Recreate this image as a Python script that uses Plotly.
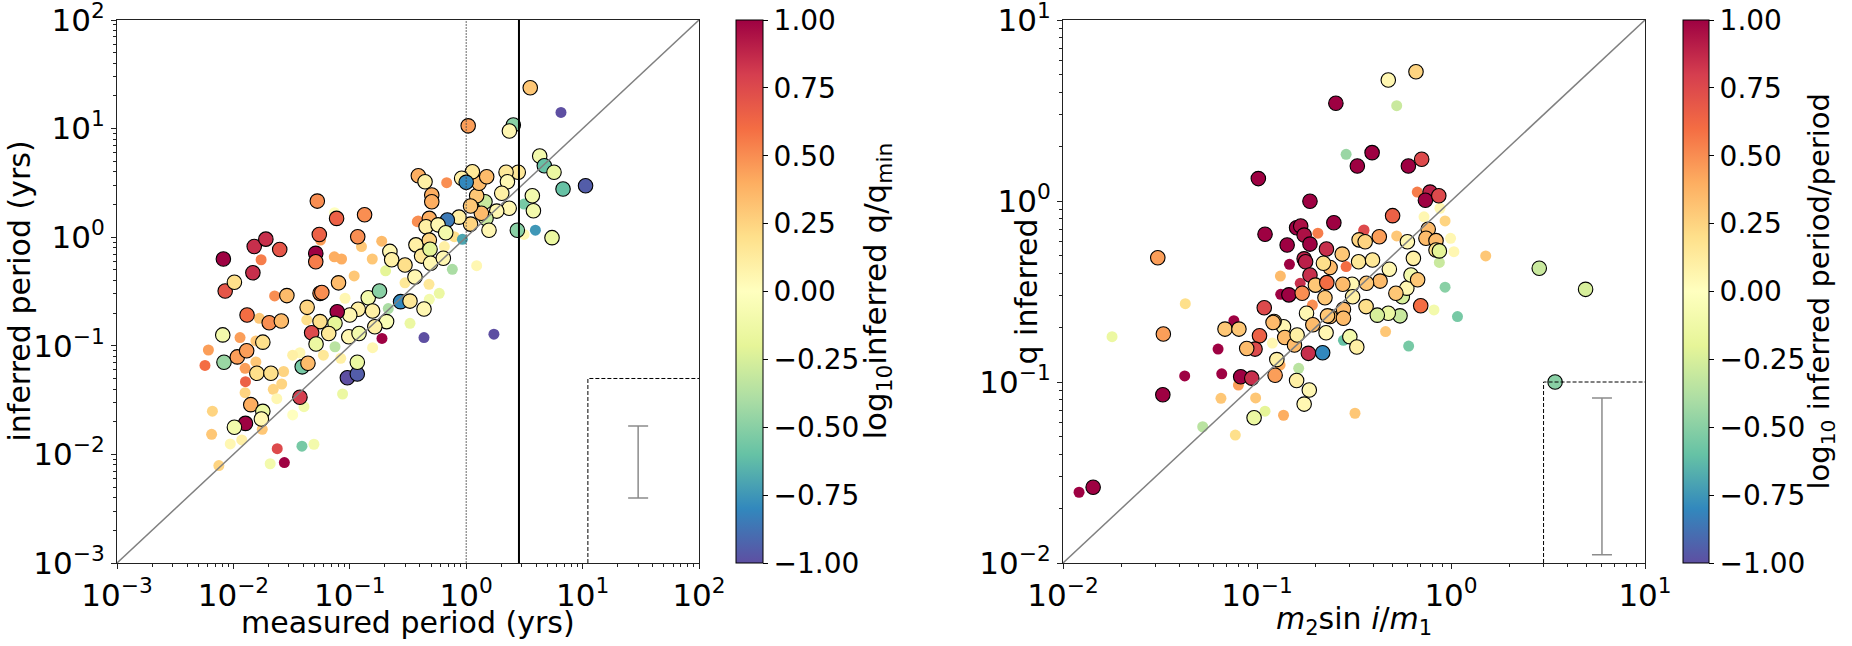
import plotly.graph_objects as go

# ---------------- data: left panel (measured vs inferred period) ----------------
# bordered markers
L_b_x = [0.0082, 0.0151, 0.019, 0.025, 0.0147, 0.0085, 0.0102, 0.0526, 0.077, 0.134,
         0.0547, 0.117, 0.051, 0.051, 0.080, 0.221, 0.229, 0.298, 0.37, 0.388,
         0.443, 0.363, 0.144, 0.18, 0.273, 0.329, 0.118, 0.157, 0.1, 0.078,
         0.043, 0.0288, 0.0555, 0.0575, 0.0131, 0.0203, 0.0258, 0.0555, 0.0746, 0.207,
         0.0081, 0.0083, 0.0108, 0.013, 0.0179, 0.0159, 0.021, 0.0141, 0.0179, 0.0174,
         0.0127, 0.0102, 0.0373, 0.039, 0.0437, 0.047, 0.0513, 0.0659, 0.098, 0.12,
         0.0953, 0.116, 0.116, 0.164,
         3.55, 1.04, 2.54, 2.35, 4.28, 4.69, 5.68, 6.79, 10.6, 3.7,
         3.78, 2.75, 5.46, 2.8, 2.2, 2.26, 2.02, 2.34, 1.83, 1.45,
         1.48, 1.35, 1.57, 1.23, 1.29, 1.5, 1.13, 0.914, 1.0, 1.09,
         1.09, 0.867, 0.689, 0.506, 0.506, 0.482, 0.452, 0.573, 0.667, 0.482,
         0.414, 0.489, 0.495, 0.636, 0.434]
L_b_y = [0.63, 0.82, 0.96, 0.77, 0.47, 0.32, 0.385, 2.15, 1.49, 1.61,
         1.06, 1.01, 0.71, 0.595, 0.38, 0.74, 0.62, 0.555, 0.85, 3.68,
         3.24, 0.43, 0.277, 0.32, 0.255, 0.258, 0.217, 0.209, 0.192, 0.206,
         0.226, 0.29, 0.304, 0.31, 0.192, 0.163, 0.169, 0.167, 0.161, 0.167,
         0.126, 0.0705, 0.079, 0.090, 0.108, 0.0558, 0.0558, 0.0287, 0.0249, 0.0212,
         0.0193, 0.0178, 0.0336, 0.064, 0.069, 0.132, 0.104, 0.130, 0.121, 0.130,
         0.0508, 0.055, 0.0705, 0.15,
         23.8, 10.6, 10.8, 9.5, 5.6, 4.55, 3.96, 2.78, 2.98, 2.41,
         1.75, 1.16, 0.99, 3.96, 3.96, 3.24, 2.54, 1.85, 1.74, 2.12,
         1.49, 1.66, 1.16, 2.41, 3.14, 3.6, 4.01, 3.49, 3.2, 1.94,
         1.32, 1.53, 1.44, 2.45, 2.12, 1.49, 1.25, 1.3, 1.1, 0.94,
         0.67, 0.775, 0.575, 0.64, 0.218]
L_b_c = [1.0, 0.85, 0.85, 0.7, 0.85, 0.7, 0.2, 0.5, 0.65, 0.5,
         0.65, 0.5, 1.0, 0.55, 0.35, 0.05, 0.1, 0.2, 0.1, 0.4,
         0.1, 0.05, -0.1, -0.5, -0.8, 0.15, 0.1, 0.1, 0.05, 1.0,
         0.25, 0.35, 0.5, 0.5, 0.6, 0.5, 0.35, 0.2, -0.2, -0.05,
         -0.1, -0.45, 0.45, 0.45, 0.2, 0.2, 0.2, 0.4, -0.15, 0.05,
         1.0, -0.1, 0.8, -0.55, 0.35, 0.75, -0.15, 0.15, 0.05, -0.1,
         -1.0, -0.95, -0.15, 0.1,
         0.3, 0.45, -0.5, 0.05, -0.1, -0.6, -0.15, -0.6, -0.95, -0.1,
         -0.1, -0.5, -0.15, 0.15, 0.15, 0.05, 0.1, 0.05, 0.05, -0.3,
         -0.3, 0.35, 0.05, 0.3, 0.35, 0.35, 0.15, 0.1, -0.8, 0.3,
         0.25, 0.1, -0.85, 0.4, 0.4, 0.4, 0.1, 0.05, -0.1, 0.25,
         0.15, -0.2, 0.05, 0.05, 0.05]

# plain markers
L_s_x = [0.0173, 0.074, 0.056, 0.126, 0.188, 0.0736, 0.085, 0.156, 0.109, 0.203,
         0.38, 0.298, 0.091, 0.214, 0.0226, 0.0167, 0.0427, 0.0114, 0.0061, 0.0057,
         0.0156, 0.0156, 0.0126, 0.027, 0.0127, 0.0126, 0.022, 0.026, 0.0236, 0.0066,
         0.0177, 0.0065, 0.0094, 0.0118, 0.0075, 0.0238, 0.0274, 0.0207, 0.0388, 0.0492,
         0.0323, 0.0404, 0.0373, 0.0323, 0.0593, 0.0746, 0.0836, 0.0867, 0.157, 0.189,
         0.329, 6.52, 3.14, 3.14, 3.93, 0.68, 0.387, 0.79, 0.927, 0.649,
         0.76, 1.23, 0.587, 0.479, 0.482, 0.434, 1.73]
L_s_y = [0.62, 1.68, 0.94, 0.82, 0.92, 0.66, 0.63, 0.63, 0.44, 0.49,
         1.39, 0.38, 0.274, 0.22, 0.288, 0.179, 0.173, 0.119, 0.0915, 0.066,
         0.111, 0.071, 0.062, 0.058, 0.0467, 0.037, 0.0397, 0.0445, 0.0326, 0.025,
         0.017, 0.0153, 0.0125, 0.0136, 0.0079, 0.0113, 0.0084, 0.0082, 0.0119, 0.0124,
         0.0231, 0.0275, 0.0863, 0.082, 0.082, 0.098, 0.0767, 0.036, 0.096, 0.117,
         0.161, 14.1, 2.02, 1.06, 1.16, 3.18, 1.41, 1.01, 0.957, 0.82,
         0.506, 0.547, 0.304, 0.368, 0.268, 0.119, 0.128]
L_s_c = [0.55, 0.0, 0.45, 0.3, 0.35, 0.4, 0.4, 0.3, 0.3, -0.2,
         0.5, 0.15, 0.05, -0.4, 0.5, 0.3, 0.2, 0.45, 0.45, 0.6,
         0.3, 0.3, 0.45, 0.25, 0.65, 0.25, 0.25, 0.25, 0.05, 0.25,
         0.3, 0.3, 0.05, 0.1, 0.25, 0.75, 1.0, -0.1, -0.55, -0.1,
         0.0, -0.1, 0.05, 0.1, 0.15, -0.35, 0.1, -0.15, 0.05, 1.0,
         -0.15, -1.0, -0.55, 0.05, -0.75, 0.5, 0.5, 0.2, -0.7, 0.1,
         -0.4, 0.05, -0.15, 0.15, -0.1, -1.0, -1.0]

# ---------------- data: right panel (m2 sin i / m1 vs q inferred) ----------------
R_b_x = [0.255, 0.392, 0.329, 0.1016, 0.1875, 0.249, 0.110, 0.160, 0.168, 0.175,
         0.143, 0.1875, 0.228, 0.175, 0.178, 0.1875, 0.146, 0.171, 0.109, 0.0308,
         0.2, 0.229, 0.238, 0.275, 0.334, 0.336, 0.361, 0.309, 0.277, 0.224,
         0.18, 0.279, 0.238, 0.311, 0.365, 0.137, 0.1225, 0.0684, 0.0807, 0.0329,
         0.0327, 0.0824, 0.094, 0.0966, 0.16, 0.186, 0.175, 0.124, 0.184, 0.218,
         0.1265, 0.139, 0.103, 0.0977, 0.0885, 0.121, 0.156, 0.161, 0.194, 0.231,
         0.227, 0.301, 0.327, 0.279, 0.0143, 0.66, 0.475, 0.603, 0.706, 0.78,
         0.738, 0.865, 0.5, 0.427, 0.596, 0.763, 0.743, 0.837, 0.837, 0.871,
         2.85, 4.94, 0.698, 0.546, 0.475, 0.417, 0.561, 0.592, 0.622, 0.673,
         0.64, 0.481, 0.431, 0.394, 0.52, 0.367, 3.44, 0.22]
R_b_y = [3.47, 1.85, 1.56, 1.33, 0.996, 0.759, 0.655, 0.712, 0.728, 0.648,
         0.571, 0.578, 0.543, 0.479, 0.462, 0.39, 0.303, 0.309, 0.257, 0.486,
         0.343, 0.354, 0.429, 0.509, 0.462, 0.61, 0.596, 0.347, 0.347, 0.292,
         0.24, 0.252, 0.23, 0.296, 0.261, 0.202, 0.216, 0.196, 0.196, 0.184,
         0.0851, 0.107, 0.105, 0.0635, 0.102, 0.0903, 0.0755, 0.109, 0.144, 0.145,
         0.133, 0.176, 0.18, 0.152, 0.153, 0.213, 0.16, 0.182, 0.207, 0.232,
         0.187, 0.178, 0.156, 0.225, 0.0262, 5.18, 4.66, 1.56, 1.7, 1.12,
         1.01, 1.07, 0.83, 0.635, 0.596, 0.698, 0.622, 0.604, 0.536, 0.53,
         0.425, 0.325, 0.264, 0.232, 0.24, 0.234, 0.296, 0.33, 0.39, 0.367,
         0.482, 0.42, 0.361, 0.472, 0.309, 0.351, 0.1, 0.453]
R_b_c = [1.0, 1.0, 1.0, 1.0, 1.0, 1.0, 1.0, 1.0, 0.95, 0.95,
         1.0, 1.0, 0.85, 0.9, 0.9, 0.85, 1.0, 0.5, 0.75, 0.45,
         0.3, 0.6, 0.35, 0.3, 0.15, 0.25, 0.25, 0.05, 0.35, 0.3,
         0.05, 0.35, 0.35, 0.1, 0.2, 0.05, 0.25, 0.3, 0.3, 0.45,
         1.0, 1.0, 0.85, -0.15, 0.1, 0.05, 0.05, 0.45, 0.85, -0.8,
         0.1, 0.35, 0.65, 0.75, 0.35, 0.35, 0.35, 0.1, 0.35, 0.3,
         0.05, -0.1, 0.1, 0.35, 1.0, 0.25, 0.05, 1.0, 0.75, 0.9,
         1.0, 0.75, 0.65, 0.45, 0.05, 0.35, 0.35, 0.35, 0.2, -0.2,
         -0.3, -0.25, 0.6, -0.3, -0.15, -0.25, -0.25, 0.05, -0.1, 0.3,
         0.1, 0.05, 0.35, 0.15, 0.3, 0.3, -0.5, 0.2]

R_s_x = [0.288, 0.206, 0.147, 0.132, 0.167, 0.1325, 0.193, 0.0427, 0.288, 0.355,
         0.076, 0.0179, 0.0121, 0.0424, 0.063, 0.0658, 0.0802, 0.0652, 0.0984, 0.11,
         0.137, 0.0773, 0.0525, 0.164, 0.279, 0.12, 0.1315, 0.525, 0.67, 0.877,
         0.726, 0.932, 0.356, 0.525, 0.995, 1.035, 0.871, 1.51, 0.932, 1.08,
         0.817, 0.46, 0.605, 0.32]
R_s_y = [1.81, 0.664, 0.447, 0.385, 0.351, 0.305, 0.266, 0.271, 0.434, 0.685,
         0.218, 0.178, 0.0246, 0.108, 0.152, 0.111, 0.0962, 0.0813, 0.0817, 0.069,
         0.0655, 0.0509, 0.0566, 0.119, 0.17, 0.164, 0.124, 3.36, 1.12, 0.912,
         0.818, 0.776, 0.692, 0.641, 0.622, 0.525, 0.458, 0.497, 0.334, 0.23,
         0.25, 0.19, 0.158, 0.0672]
R_s_c = [-0.45, 0.55, 1.0, 0.35, 0.85, 1.0, 0.5, 0.2, 0.6, 0.7,
         1.0, -0.15, 1.0, 1.0, 1.0, 1.0, 0.45, 0.3, 0.3, -0.2,
         0.4, 0.2, -0.35, -0.35, -0.6, 0.05, 0.4, -0.3, 0.55, 0.05,
         0.05, 0.25, 0.75, 0.3, 0.05, 0.05, -0.3, 0.3, -0.5, -0.55,
         -0.1, 0.3, -0.55, 0.3]

# reference lines / guide boxes / error bars
L_diag = [1e-3, 1e2]
R_diag = [1e-2, 1e1]
L_vline_dotted = 1.0
L_vline_solid = 2.84
L_box_x = [11.1, 11.1, 100]
L_box_y = [1e-3, 0.05, 0.05]
R_box_x = [3.0, 3.0, 10]
R_box_y = [1e-2, 0.1, 0.1]
L_err = dict(x=30, lo=0.00397, hi=0.0183, mid=0.0085)
R_err = dict(x=6.0, lo=0.0111, hi=0.0816, mid=0.03)

# ---------------- styling ----------------
FONT = "DejaVu Sans"
TICK_FS = 31
CB_TICK_FS = 28
TITLE_FS = 30
W, H = 1852, 646
spectral_r = [[0.0, 'rgb(94,79,162)'], [0.1, 'rgb(50,136,189)'], [0.2, 'rgb(102,194,165)'],
              [0.3, 'rgb(171,221,164)'], [0.4, 'rgb(230,245,152)'], [0.5, 'rgb(255,255,191)'],
              [0.6, 'rgb(254,224,139)'], [0.7, 'rgb(253,174,97)'], [0.8, 'rgb(244,109,67)'],
              [0.9, 'rgb(213,62,79)'], [1.0, 'rgb(158,1,66)']]

SUP = {-3: "−3", -2: "−2", -1: "−1", 0: "0", 1: "1", 2: "2"}


def log_ticks(lo, hi):
    vals = [10.0 ** k for k in range(lo, hi + 1)]
    text = ["10<sup>%s</sup>" % SUP[k] for k in range(lo, hi + 1)]
    minor = [m * 10.0 ** k for k in range(lo, hi) for m in range(2, 10)]
    return vals, text, minor


def px(xp):
    return xp / W


def py(yp):
    return 1 - yp / H


fig = go.Figure()

# small markers
fig.add_trace(go.Scatter(x=L_s_x, y=L_s_y, mode="markers", xaxis="x", yaxis="y",
                         marker=dict(size=11, color=L_s_c, coloraxis="coloraxis", line=dict(width=0)),
                         showlegend=False, hoverinfo="skip"))
fig.add_trace(go.Scatter(x=R_s_x, y=R_s_y, mode="markers", xaxis="x2", yaxis="y2",
                         marker=dict(size=11, color=R_s_c, coloraxis="coloraxis2", line=dict(width=0)),
                         showlegend=False, hoverinfo="skip"))
# bordered markers
fig.add_trace(go.Scatter(x=L_b_x, y=L_b_y, mode="markers", xaxis="x", yaxis="y",
                         marker=dict(size=14.5, color=L_b_c, coloraxis="coloraxis",
                                     line=dict(width=1.1, color="black")),
                         showlegend=False, hoverinfo="skip"))
fig.add_trace(go.Scatter(x=R_b_x, y=R_b_y, mode="markers", xaxis="x2", yaxis="y2",
                         marker=dict(size=14.5, color=R_b_c, coloraxis="coloraxis2",
                                     line=dict(width=1.1, color="black")),
                         showlegend=False, hoverinfo="skip"))

# diagonal one-to-one lines
fig.add_trace(go.Scatter(x=L_diag, y=L_diag, mode="lines", xaxis="x", yaxis="y",
                         line=dict(color="gray", width=1.5), showlegend=False, hoverinfo="skip"))
fig.add_trace(go.Scatter(x=R_diag, y=R_diag, mode="lines", xaxis="x2", yaxis="y2",
                         line=dict(color="gray", width=1.5), showlegend=False, hoverinfo="skip"))

# vertical lines in left panel
fig.add_trace(go.Scatter(x=[L_vline_dotted, L_vline_dotted], y=L_diag, mode="lines", xaxis="x", yaxis="y",
                         line=dict(color="#444444", width=0.8, dash="2px,1px"), showlegend=False,
                         hoverinfo="skip"))
fig.add_trace(go.Scatter(x=[L_vline_solid, L_vline_solid], y=L_diag, mode="lines", xaxis="x", yaxis="y",
                         line=dict(color="black", width=2), showlegend=False, hoverinfo="skip"))

# dashed boxes
fig.add_trace(go.Scatter(x=L_box_x, y=L_box_y, mode="lines", xaxis="x", yaxis="y",
                         line=dict(color="black", width=1, dash="4px,2px"), showlegend=False, hoverinfo="skip"))
fig.add_trace(go.Scatter(x=R_box_x, y=R_box_y, mode="lines", xaxis="x2", yaxis="y2",
                         line=dict(color="black", width=1, dash="4px,2px"), showlegend=False, hoverinfo="skip"))

# error bars
for e, xa, ya in [(L_err, "x", "y"), (R_err, "x2", "y2")]:
    fig.add_trace(go.Scatter(x=[e["x"]], y=[e["mid"]], mode="markers", xaxis=xa, yaxis=ya,
                             marker=dict(size=1, opacity=0),
                             error_y=dict(type="data", symmetric=False,
                                          array=[e["hi"] - e["mid"]], arrayminus=[e["mid"] - e["lo"]],
                                          width=10, thickness=1.5, color="#8c8c8c"),
                             showlegend=False, hoverinfo="skip"))

lxv, lxt, lxm = log_ticks(-3, 2)
rxv, rxt, rxm = log_ticks(-2, 1)

axis_common = dict(type="log", showgrid=False, zeroline=False, showline=True, linecolor="#222222",
                   linewidth=1.1, mirror=True, ticks="outside", ticklen=5, tickwidth=1.1,
                   tickcolor="#222222", tickmode="array", ticklabeloverflow="allow",
                   tickfont=dict(family=FONT, size=TICK_FS, color="black"), automargin=False)
minor_common = dict(ticks="outside", ticklen=3, tickwidth=0.8, tickcolor="#222222")

PT, PB = 20, 563          # plot top/bottom in pixels
L_X0, L_X1 = 117, 699
R_X0, R_X1 = 1063, 1645

fig.update_layout(
    width=W, height=H,
    margin=dict(l=0, r=0, t=0, b=0),
    paper_bgcolor="white", plot_bgcolor="white",
    font=dict(family=FONT, size=TICK_FS, color="black"),
    xaxis=dict(axis_common, domain=[px(L_X0), px(L_X1)], range=[-3, 2], tickvals=lxv, ticktext=lxt,
               minor=dict(minor_common, tickvals=lxm), anchor="y"),
    yaxis=dict(axis_common, domain=[py(PB), py(PT)], range=[-3, 2], tickvals=lxv, ticktext=lxt,
               minor=dict(minor_common, tickvals=lxm), anchor="x"),
    xaxis2=dict(axis_common, domain=[px(R_X0), px(R_X1)], range=[-2, 1], tickvals=rxv, ticktext=rxt,
                minor=dict(minor_common, tickvals=rxm), anchor="y2"),
    yaxis2=dict(axis_common, domain=[py(PB), py(PT)], range=[-2, 1], tickvals=rxv, ticktext=rxt,
                minor=dict(minor_common, tickvals=rxm), anchor="x2"),
)

cb_ticks = [-1.0, -0.75, -0.5, -0.25, 0.0, 0.25, 0.5, 0.75, 1.0]
cb_text = [("%.2f" % v).replace("-", "−") for v in cb_ticks]


def cbar(x, thick):
    return dict(x=x, xanchor="left", xpad=0, y=py(PT), yanchor="top", ypad=0,
                lenmode="pixels", len=PB - PT, thickness=thick, outlinewidth=1, outlinecolor="black",
                tickmode="array", tickvals=cb_ticks, ticktext=cb_text, ticks="outside", ticklen=5,
                tickwidth=1, tickcolor="black", tickfont=dict(family=FONT, size=CB_TICK_FS))


fig.update_layout(
    coloraxis=dict(colorscale=spectral_r, cmin=-1, cmax=1, colorbar=cbar(px(736), 27)),
    coloraxis2=dict(colorscale=spectral_r, cmin=-1, cmax=1, colorbar=cbar(px(1683), 26)),
)

# titles as annotations (pixel-placed)
titles = [
    ("measured period (yrs)", (L_X0 + L_X1) / 2, 622, 0, TITLE_FS),
    ("<i>m</i><sub>2</sub>sin <i>i</i>/<i>m</i><sub>1</sub>", (R_X0 + R_X1) / 2, 620, 0, TITLE_FS),
    ("inferred period (yrs)", 19, (PT + PB) / 2, -90, TITLE_FS),
    ("q inferred", 1026, (PT + PB) / 2, -90, TITLE_FS),
    ("log<sub>10</sub>inferred q/q<sub>min</sub>", 877, (PT + PB) / 2, -90, 31),
    ("log<sub>10</sub> inferred period/period", 1820, (PT + PB) / 2, -90, 29),
]
for text, xp, yp, ang, fs in titles:
    fig.add_annotation(text=text, x=px(xp), y=py(yp), xref="paper", yref="paper",
                       xanchor="center", yanchor="middle", showarrow=False, textangle=ang,
                       font=dict(family=FONT, size=fs, color="black"))

fig.write_html("out.html", config={"displayModeBar": False},
               post_script="document.body.style.margin='0px';")
